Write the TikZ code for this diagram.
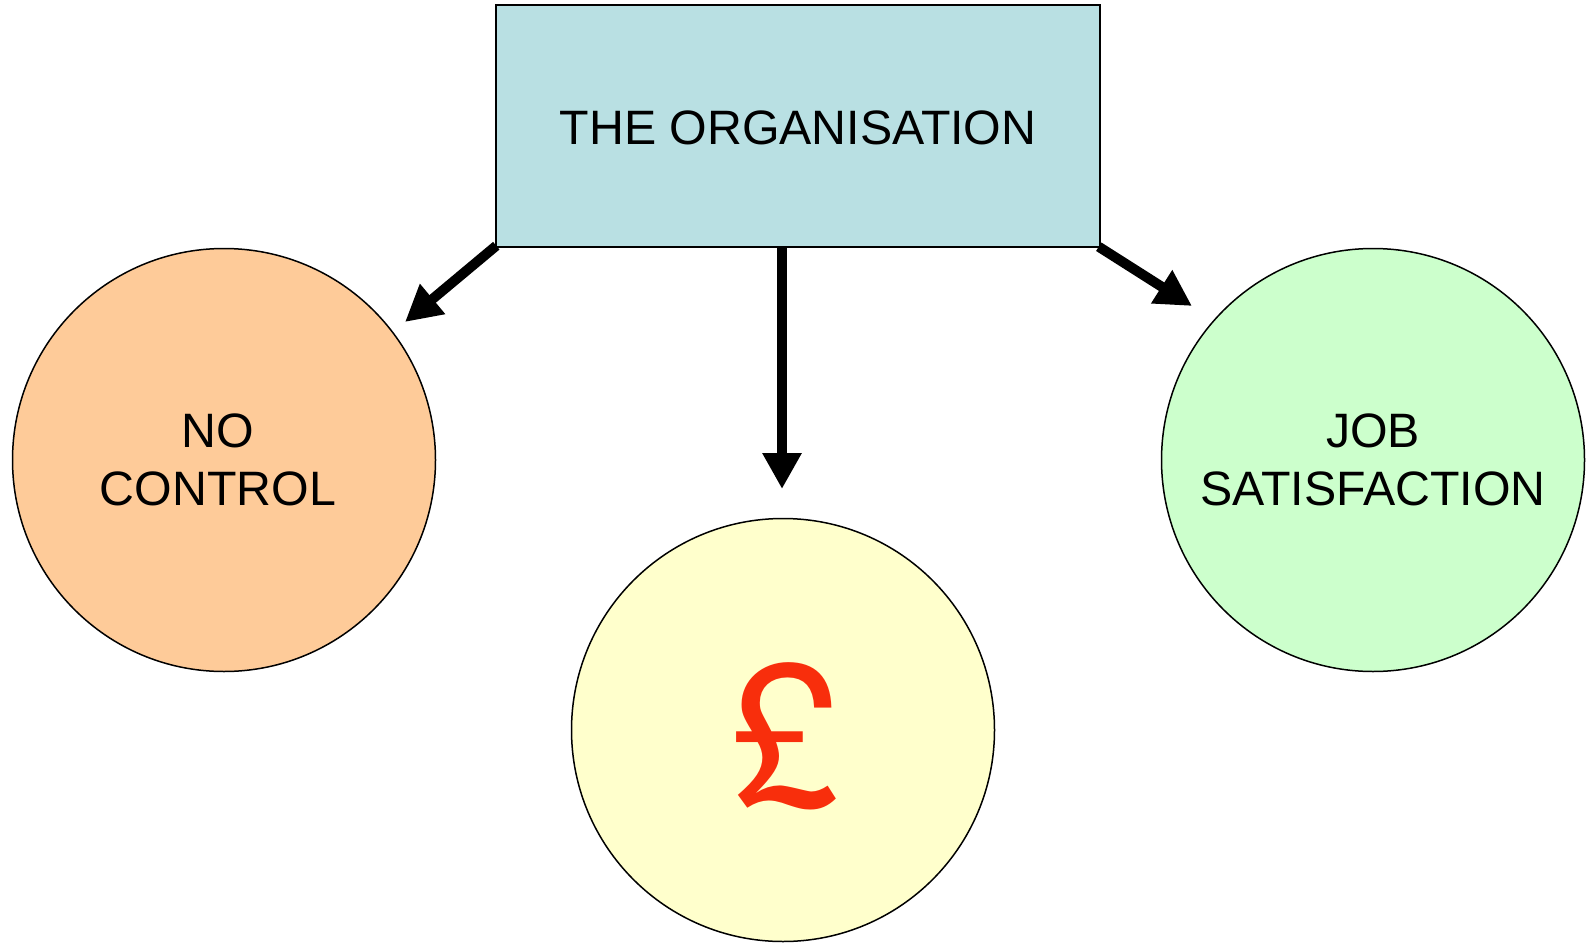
\documentclass[tikz,border=0pt]{standalone}
\usepackage{fontspec}
\setmainfont{Liberation Sans}
\newfontfamily\heros{TeX Gyre Heros}
\usetikzlibrary{arrows.meta,positioning}
\definecolor{orgblue}{RGB}{185,224,227}
\definecolor{peach}{RGB}{254,203,153}
\definecolor{paleyellow}{RGB}{255,255,204}
\definecolor{palegreen}{RGB}{204,255,204}
\definecolor{poundred}{RGB}{248,46,12}
\tikzset{
  bubble/.style={circle,draw,line width=1.5pt,minimum size=423pt,inner sep=0pt,
    align=center,font=\fontsize{48.3}{58}\selectfont},
  bigarrow/.style={line width=10pt,-{Triangle[length=36pt,width=37pt]}}
}
\begin{document}
\begin{tikzpicture}[x=1pt,y=-1pt]
\useasboundingbox (0,0) rectangle (1586,944);
\node (org) [draw,line width=1.5pt,fill=orgblue,minimum width=604pt,minimum height=242pt,
  font=\fontsize{48.3}{58}\selectfont,
  label={[yshift=-2pt,font=\fontsize{48.3}{58}\selectfont]center:THE ORGANISATION}] at (798,126) {};
\node (nocontrol) [bubble,fill=peach,
  label={[xshift=-6pt,align=center,font=\fontsize{48.3}{58}\selectfont]center:NO\\CONTROL}] at (224,460) {};
\node (money) [bubble,fill=paleyellow] at (783,730) {};
\node (jobsat) [bubble,fill=palegreen] at (1373,460) {JOB\\SATISFACTION};
\node (pound) [text=poundred,font=\heros\fontsize{196}{196}\selectfont] at (786,736) {£};
% arrow ends
\coordinate (lefttip) at (405,322);
\coordinate (midtip) at (782,489);
\coordinate (righttip) at (1192,306);
\draw [bigarrow] ([xshift=1pt,yshift=2pt]org.south west) -- (lefttip);
\draw [bigarrow] ([xshift=-16pt]org.south) -- (midtip);
\draw [bigarrow] ([xshift=-2pt,yshift=1pt]org.south east) -- (righttip);
\end{tikzpicture}
\end{document}
